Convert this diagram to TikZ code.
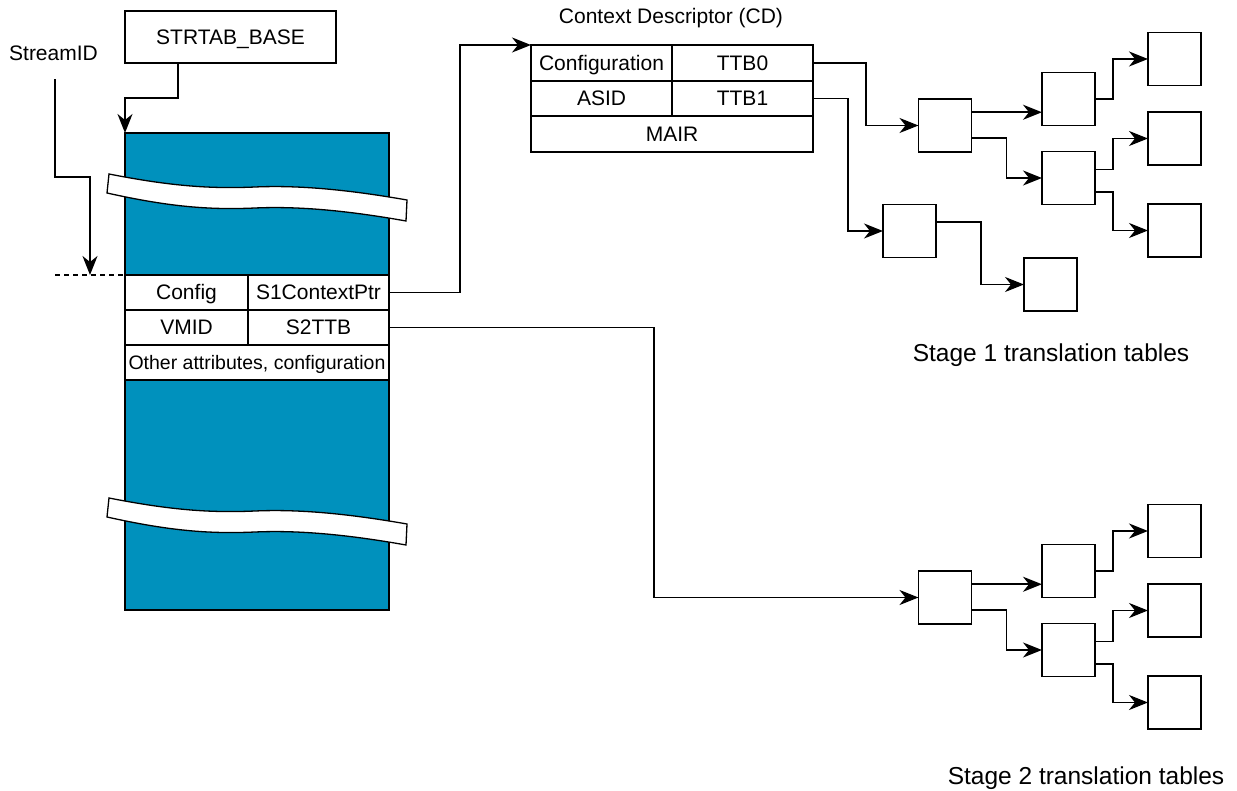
\documentclass[tikz,border=0pt]{standalone}
\usepackage{fontspec}
\setmainfont{Liberation Sans}
\usetikzlibrary{arrows.meta,calc}
\definecolor{armblue}{HTML}{0091BD}
\begin{document}
\begin{tikzpicture}[x=1pt,y=-1pt, line width=1.8pt,
  txt/.style={font=\fontsize{21}{24}\selectfont, inner sep=0pt},
  cell/.style={draw, fill=white, inner sep=0pt, outer sep=0pt, text height=15pt, text depth=0pt, font=\fontsize{21}{24}\selectfont},
  tblbox/.style={draw, fill=white, inner sep=0pt, outer sep=0pt, minimum width=53pt, minimum height=53pt},
  arr/.style={-{Stealth[length=19pt,width=15pt,inset=6pt]}},
  band/.style={draw, fill=white, line width=1.3pt},
  big/.style={font=\fontsize{24.5}{28}\selectfont, inner sep=0pt}]
\useasboundingbox (0,0) rectangle (1237,791);

% STRTAB_BASE and StreamID
\node[draw, minimum width=211pt, minimum height=52pt, inner sep=0pt, outer sep=0pt, txt, text height=15pt, text depth=0pt] (base) at (230.5,37) {STRTAB\_BASE};
\node[txt] (sid) at (53.5,53) {StreamID};

% memory block
\node[draw, fill=armblue, minimum width=264pt, minimum height=477pt, inner sep=0pt, outer sep=0pt] (mem) at (257,371.5) {};

% break bands
\path[band] (109,174) .. controls (170,186) and (210,189) .. (255,187) .. controls (300,185) and (350,190) .. (407,200)
  -- (406,221) .. controls (350,211) and (300,206) .. (255,208) .. controls (210,210) and (170,207) .. (107,193) -- cycle;
\begin{scope}[shift={(0,324)}]
\path[band] (109,174) .. controls (170,186) and (210,189) .. (255,187) .. controls (300,185) and (350,190) .. (407,200)
  -- (406,221) .. controls (350,211) and (300,206) .. (255,208) .. controls (210,210) and (170,207) .. (107,193) -- cycle;
\end{scope}

% STE fields
\node[cell, minimum width=123pt, minimum height=35pt] (cfg) at (186.5,292.5) {Config};
\node[cell, minimum width=141pt, minimum height=35pt] (s1) at (318.5,292.5) {S1ContextPtr};
\node[cell, minimum width=123pt, minimum height=35pt] (vmid) at (186.5,327.5) {VMID};
\node[cell, minimum width=141pt, minimum height=35pt] (s2) at (318.5,327.5) {S2TTB};
\node[cell, minimum width=264pt, minimum height=35pt, font=\fontsize{19.5}{22}\selectfont, text height=14pt] (oth) at (257,362.5) {Other attributes, configuration};

% Context descriptor
\node[txt] (cdl) at (671,18) {Context Descriptor (CD)};
\node[cell, minimum width=141pt, minimum height=36pt] (conf) at (601.5,63) {Configuration};
\node[cell, minimum width=141pt, minimum height=36pt] (ttb0) at (742.5,63) {TTB0};
\node[cell, minimum width=141pt, minimum height=35pt] (asid) at (601.5,98.5) {ASID};
\node[cell, minimum width=141pt, minimum height=35pt] (ttb1) at (742.5,98.5) {TTB1};
\node[cell, minimum width=282pt, minimum height=36pt] (mair) at (672,134) {MAIR};

% Stage 1 tables
\node[tblbox] (A) at (945,125.5) {};
\node[tblbox] (B) at (1068.5,99) {};
\node[tblbox] (C) at (1068.5,178) {};
\node[tblbox] (D) at (909.5,231) {};
\node[tblbox] (E) at (1174.5,59) {};
\node[tblbox] (F) at (1174.5,138.5) {};
\node[tblbox] (G) at (1174.5,230.5) {};
\node[tblbox] (H) at (1050.5,284.5) {};
\node[big] (st1) at (1051,355) {Stage 1 translation tables};

% Stage 2 tables
\node[tblbox] (P) at (945,597.5) {};
\node[tblbox] (Q) at (1068.5,571) {};
\node[tblbox] (R) at (1068.5,650) {};
\node[tblbox] (S) at (1174.5,531) {};
\node[tblbox] (T) at (1174.5,610.5) {};
\node[tblbox] (U) at (1174.5,702.5) {};
\node[big] (st2) at (1086,778) {Stage 2 translation tables};

% connectors
\draw[arr] ([xshift=-52.5pt]base.south) -- ++(0,35) -| (mem.north west);
\coordinate (sidhit) at (90,275);
\coordinate (dashstart) at (55,275);
\draw[arr] ($(sid.south)+(1.5,18)$) -- ++(0,98) -| (sidhit);
\draw[line width=1.3pt, dash pattern=on 5pt off 4pt] (dashstart) -- (cfg.north west);

\draw[arr] (s1.east) -- ++(71,0) |- (conf.north west);
\draw[arr] (s2.east) -- ++(265,0) |- (P.west);

\draw[arr] (ttb0.east) -- ++(53,0) |- (A.west);
\draw[arr] (ttb1.east) -- ++(35,0) |- (D.west);
\draw[arr] ($(A.north east)!0.25!(A.south east)$) coordinate (a1) -- (a1 -| B.west);
\draw[arr] ($(A.north east)!0.74!(A.south east)$) -- ++(35,0) |- (C.west);
\draw[arr] (B.east) -- ++(18,0) |- (E.west);
\draw[arr] ($(C.north east)!0.34!(C.south east)$) -- ++(18,0) |- (F.west);
\draw[arr] ($(C.north east)!0.77!(C.south east)$) -- ++(18,0) |- (G.west);
\draw[arr] ($(D.north east)!0.33!(D.south east)$) -- ++(45,0) |- (H.west);

\draw[arr] ($(P.north east)!0.25!(P.south east)$) coordinate (p1) -- (p1 -| Q.west);
\draw[arr] ($(P.north east)!0.74!(P.south east)$) -- ++(35,0) |- (R.west);
\draw[arr] (Q.east) -- ++(18,0) |- (S.west);
\draw[arr] ($(R.north east)!0.34!(R.south east)$) -- ++(18,0) |- (T.west);
\draw[arr] ($(R.north east)!0.77!(R.south east)$) -- ++(18,0) |- (U.west);
\end{tikzpicture}
\end{document}
